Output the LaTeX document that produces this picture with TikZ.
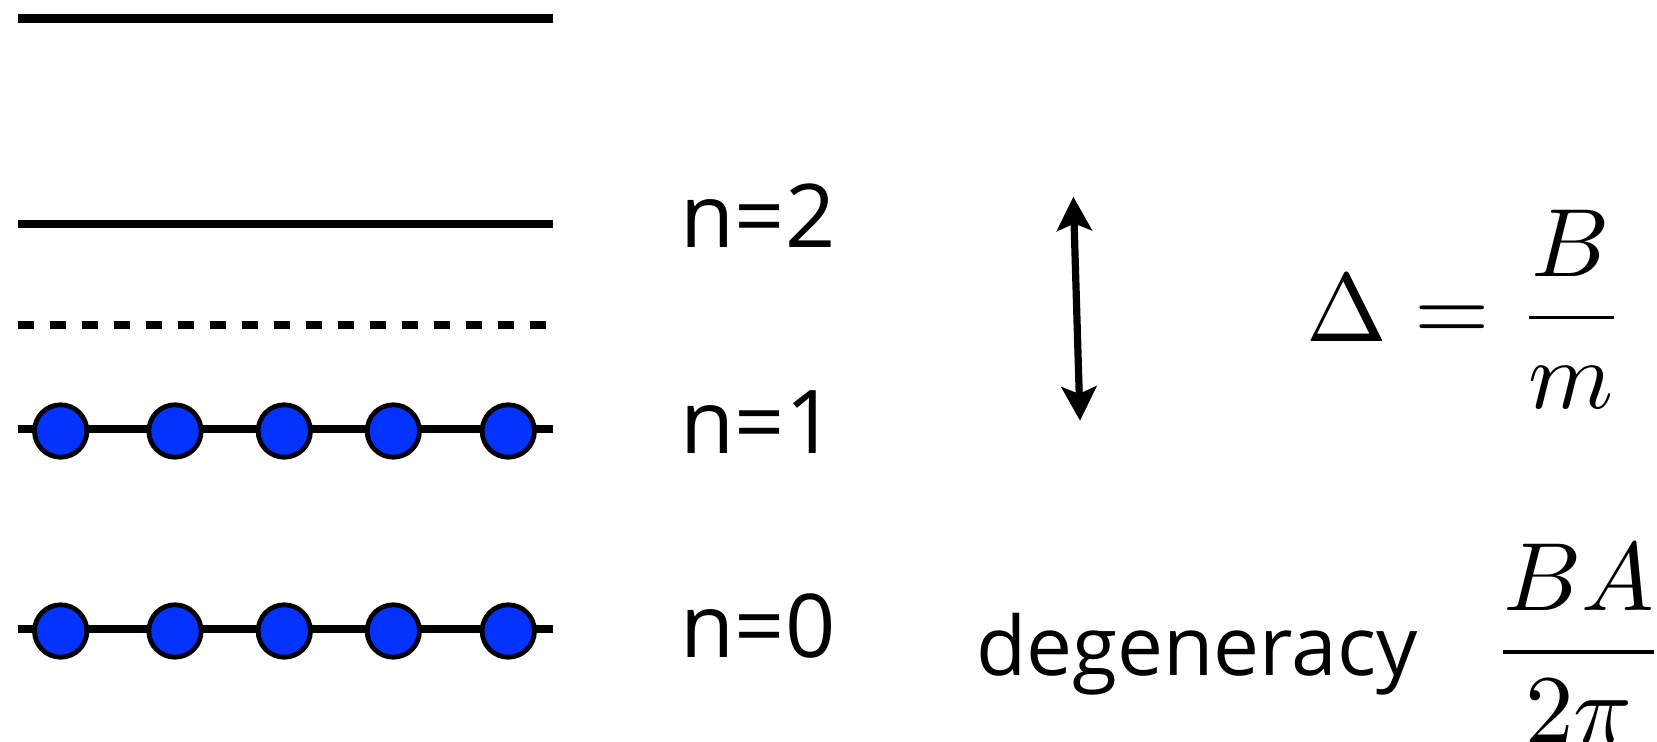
\documentclass[tikz,border=0pt]{standalone}
\usepackage{amsmath}
\usepackage{graphicx}
\usepackage[no-math]{fontspec}
\setmainfont{Open Sans}
\usetikzlibrary{arrows.meta}
\definecolor{dotblue}{HTML}{0433FF}
\newcommand{\bigmath}[1]{\scalebox{4.85}{\fontsize{10}{12}\selectfont$#1$}}
\tikzset{
  level/.style={line width=4.2pt, line cap=butt},
  dashlevel/.style={line width=3.9pt, dash pattern=on 8.15pt off 7.85pt},
  dot/.style={circle, draw=black, line width=2.4pt, fill=dotblue, minimum size=26.2pt, inner sep=0pt},
  lbl/.style={anchor=base west, inner sep=0pt, font=\fontsize{41}{49}\selectfont},
  nlbl/.style={anchor=base west, inner sep=0pt, font=\fontsize{44}{52}\selectfont},
  mathlbl/.style={anchor=base west, inner sep=0pt},
  gaparrow/.style={line width=3.6pt, {Stealth[length=17pt, width=17.5pt, inset=3.6pt]}-{Stealth[length=17pt, width=17.5pt, inset=3.6pt]}}
}
\begin{document}
\begin{tikzpicture}[x=0.5pt, y=-0.5pt]
\useasboundingbox (0,0) rectangle (1657,742);
% levels
\coordinate (l3a) at (17.7,18.5);  \coordinate (l3b) at (552.7,18.5);
\coordinate (l2a) at (17.7,224);   \coordinate (l2b) at (552.7,224);
\coordinate (lda) at (17.7,325);   \coordinate (ldb) at (552.7,325);
\coordinate (l1a) at (17.7,429);   \coordinate (l1b) at (552.7,429);
\coordinate (l0a) at (17.7,629);   \coordinate (l0b) at (552.7,629);
\draw[level] (l3a) -- (l3b);
\draw[level] (l2a) -- (l2b);
\draw[dashlevel] (lda) -- (ldb);
\draw[level] (l1a) -- (l1b);
\draw[level] (l0a) -- (l0b);
% filled states
\foreach \i/\x in {1/60.7,2/175,3/284.3,4/393.3,5/508.3}{
  \node[dot] (a\i) at (\x,431) {};
  \node[dot] (b\i) at (\x,631) {};
}
% labels
\node[nlbl] (n2) at (680.5,247.7) {n=2};
\node[nlbl] (n1) at (680.5,453) {n=1};
\node[nlbl] (n0) at (680.5,657.7) {n=0};
% gap arrow
\coordinate (gtop) at (1073.3,196.7);
\coordinate (gbot) at (1080,420.7);
\draw[gaparrow] (gtop) -- (gbot);
% formulas
\node[mathlbl] (gap) at (1306.3,341.7) {\bigmath{\Delta = \dfrac{B}{m}}};
\node[lbl] (deg) at (976,675) {degeneracy};
\node[mathlbl] (degf) at (1491,676) {\bigmath{\dfrac{BA}{2\pi}}};
\end{tikzpicture}
\end{document}
